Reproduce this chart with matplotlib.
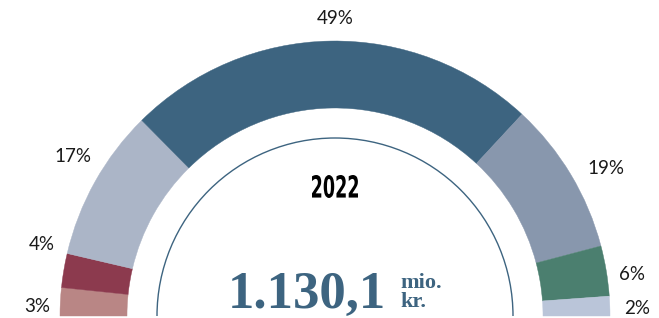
import matplotlib
matplotlib.use("Agg")
import matplotlib.pyplot as plt
from matplotlib.patches import Wedge, Arc, PathPatch
from matplotlib.textpath import TextPath
from matplotlib.font_manager import FontProperties
from matplotlib.transforms import Affine2D
import numpy as np

matplotlib.rcParams['font.family'] = 'Lato'

shares = [3.3, 4.0, 17.9, 48.6, 18.0, 5.9, 2.3]
pct_labels = ["3%", "4%", "17%", "49%", "19%", "6%", "2%"]
slice_colors = ["#B98685", "#8C3A4E", "#ABB5C7", "#3D6480", "#8897AD", "#4B7F6F", "#BAC5D9"]
label_pos = [(37, 306), (42, 244), (73, 157), (335, 19), (606, 168), (632, 275), (637, 308)]

year = "2022"
total = "1.130,1"
unit = "mio.\nkr."

W, H = 659, 318
fig = plt.figure(figsize=(W / 100, H / 100), dpi=100)
ax = fig.add_axes([0, 0, 1, 1])
ax.set_xlim(0, W)
ax.set_ylim(0, H)
ax.set_aspect('equal')
ax.axis('off')

cx, cy = 335, H - 316
r_out, r_in = 275, 208

# ── half donut ──
ends = 180 - 180 * np.cumsum(shares) / sum(shares)
starts = np.concatenate([[180], ends[:-1]])
for t_start, t_end, c in zip(starts, ends, slice_colors):
    ax.add_patch(Wedge((cx, cy), r_out, t_end, t_start, width=r_out - r_in,
                       facecolor=c, edgecolor=c, linewidth=0.3))

for txt, (x, y) in zip(pct_labels, label_pos):
    ax.text(x, H - y, txt, ha='center', va='center', fontsize=13.5, color='#1a1a1a')

# thin inner ring
ax.add_patch(Arc((cx, cy), 2 * 178, 2 * 178, theta1=0, theta2=180, color='#3D6480', linewidth=1))

# ── centre text ──
# year in a narrow bold face: squeeze a bold text path into its box
tp = TextPath((0, 0), year, size=20, prop=FontProperties(family='DejaVu Sans', weight='bold'))
bb = tp.get_extents()
x0, x1, y0, y1 = 312, 358, 175, 198
tr = (Affine2D().translate(-bb.x0, -bb.y0)
      .scale((x1 - x0) / bb.width, (y1 - y0) / bb.height)
      .translate(x0, H - y1))
ax.add_patch(PathPatch(tr.transform_path(tp), facecolor='black', edgecolor='none'))

ax.text(306.5, H - 308, total, ha='center', va='baseline', fontsize=38, fontweight='bold',
        family='Liberation Serif', color='#3D6480')
ax.text(400, H - 307, unit, ha='left', va='baseline', fontsize=16, fontweight='bold',
        family='Liberation Serif', color='#3D6480', linespacing=0.9)

plt.savefig("out.png", dpi=100)
